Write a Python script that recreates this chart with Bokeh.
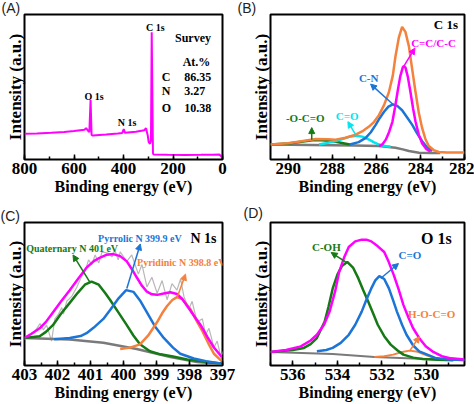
from bokeh.plotting import figure
from bokeh.layouts import gridplot
from bokeh.models import Range1d, SingleIntervalTicker, FixedTicker, Label, Arrow, NormalHead
from bokeh.embed import file_html
from bokeh.resources import INLINE

# ---------------- data ----------------
# (A) survey spectrum
survey_be = [800, 750, 692, 640, 600, 558, 551, 545, 538, 533, 529, 524, 470, 423, 405, 399, 394,
             350, 316, 309, 302, 298, 293, 289, 286, 281, 279, 222, 150, 87, 40, 13, 4]
survey_int = [17.7, 18.0, 18.4, 19.0, 19.6, 20.5, 21.6, 20.2, 18.9, 41.2, 17.0, 16.5, 17.2, 17.9, 18.3, 20.9, 18.4,
              19.2, 20.2, 21.6, 16.5, 11.9, 10.8, 13.1, 87.8, 4.5, 3.4, 3.2, 3.1, 3.2, 3.3, 3.5, 2.0]
survey_elem = ["C", "N", "O"]
survey_pct = ["86.35", "3.27", "10.38"]

# (B) C 1s
c_env_be = [290.8, 290.0, 289.4, 288.75, 288.2, 287.84, 287.4, 286.94, 286.6, 286.33, 286.1, 285.88, 285.65,
            285.43, 285.25, 285.13, 284.98, 284.83, 284.68, 284.52, 284.37, 284.22, 284.07, 283.92, 283.77,
            283.62, 283.4, 283.17, 282.8, 282.0]
c_env_int = [10.3, 11.2, 12.6, 14.2, 14.0, 13.7, 15.0, 17.1, 19.8, 22.7, 26.0, 30.6, 37.5,
             46.4, 58.0, 71.2, 84.0, 91.4, 88.0, 77.9, 62.0, 46.4, 32.0, 21.6, 14.0,
             9.3, 6.5, 5.2, 4.9, 4.9]
c_cc_be = [285.88, 285.72, 285.57, 285.42, 285.27, 285.15, 285.04, 284.92, 284.8, 284.75, 284.68, 284.57,
           284.45, 284.33, 284.22, 284.07, 283.92, 283.75, 283.55]
c_cc_int = [9.3, 10.5, 13.7, 19.0, 26.0, 36.0, 46.4, 57.0, 63.5, 64.4, 63.5, 57.0,
            46.4, 35.0, 26.0, 17.0, 11.0, 7.5, 5.4]
c_cn_be = [287.2, 286.8, 286.48, 286.25, 286.03, 285.85, 285.65, 285.45, 285.25, 285.05, 284.83, 284.6,
           284.37, 284.15, 283.92, 283.7, 283.47]
c_cn_int = [10.3, 12.0, 14.9, 18.8, 23.9, 28.5, 32.9, 36.5, 38.0, 37.0, 34.0, 29.0,
            23.9, 18.0, 12.6, 8.5, 5.9]
c_co_be = [288.6, 288.3, 287.84, 287.5, 287.2, 286.86, 286.6, 286.33, 286.1, 285.88, 285.6, 285.35]
c_co_int = [10.4, 11.2, 12.8, 14.3, 15.8, 16.4, 15.6, 13.7, 11.8, 10.3, 9.3, 8.8]
c_oco_be = [290.8, 290.0, 289.4, 288.9, 288.6, 288.2, 287.84, 287.5, 287.2]
c_oco_int = [10.3, 11.0, 12.3, 13.3, 13.5, 13.0, 12.2, 11.2, 10.3]
c_bg_be = [290.8, 289.0, 287.0, 285.88, 285.13, 284.8, 284.52, 284.07, 283.5, 283.1]
c_bg_int = [10.3, 10.0, 9.6, 9.3, 8.1, 7.0, 5.9, 4.7, 4.5, 4.4]

# (C) N 1s
n_raw_be = [403.0, 402.94, 402.69, 402.53, 402.43, 402.33, 402.18, 402.08, 401.97, 401.87, 401.82, 401.72,
            401.57, 401.41, 401.26, 401.16, 401.06, 400.96, 400.86, 400.75, 400.65, 400.45, 400.35, 400.26,
            400.16, 400.1, 399.9, 399.75, 399.55, 399.44, 399.29, 399.14, 398.98, 398.83, 398.68, 398.53,
            398.38, 398.27, 398.17, 398.02, 397.92, 397.77, 397.61, 397.51, 397.41, 397.26, 397.16, 397.05,
            396.97]
n_raw_int = [18.0, 19.3, 23.7, 29.3, 24.9, 28.2, 17.1, 32.6, 36.0, 40.5, 36.0, 44.9,
             48.3, 55.0, 62.7, 66.1, 73.9, 70.6, 77.3, 71.7, 79.5, 78.4, 75.9, 80.6,
             73.9, 79.5, 72.8, 77.3, 63.9, 70.6, 55.0, 61.7, 50.5, 59.4, 46.0, 57.2,
             52.7, 60.5, 48.3, 39.3, 44.9, 30.4, 32.6, 21.5, 26.0, 12.6, 17.1, 5.9,
             10.4]
n_env_be = [403.0, 402.8, 402.54, 402.35, 402.14, 401.9, 401.63, 401.38, 401.12, 400.9, 400.71, 400.5,
            400.31, 400.1, 399.9, 399.75, 399.6, 399.45, 399.29, 399.14, 398.98, 398.78, 398.58, 398.38,
            398.22, 398.07, 397.87, 397.66, 397.46, 397.26, 397.02]
n_env_int = [19.3, 22.0, 26.0, 30.5, 37.1, 44.5, 52.7, 60.5, 68.4, 73.0, 75.5, 77.5,
             77.9, 76.5, 72.8, 67.5, 61.7, 56.0, 51.6, 49.8, 49.4, 50.3, 51.2, 50.0,
             46.5, 41.6, 35.0, 28.2, 20.0, 12.6, 5.9]
n_quat_be = [403.0, 402.54, 402.35, 402.14, 401.9, 401.63, 401.38, 401.17, 400.97, 400.75, 400.55, 400.41,
             400.15, 399.9, 399.7, 399.5, 399.2, 398.88, 398.5, 398.07, 397.6, 397.0]
n_quat_int = [19.3, 20.4, 23.5, 28.2, 36.0, 43.8, 51.0, 56.5, 58.7, 56.5, 50.5, 46.0,
              37.0, 28.2, 21.0, 14.8, 10.0, 7.8, 6.3, 4.2, 2.8, 1.2]
n_pyrr_be = [402.1, 401.63, 401.3, 401.12, 400.9, 400.61, 400.4, 400.15, 399.92, 399.7, 399.5, 399.29,
             399.05, 398.78, 398.5, 398.28, 397.87, 397.5, 397.0]
n_pyrr_int = [18.4, 19.3, 20.6, 22.6, 26.5, 32.6, 39.0, 47.0, 52.7, 51.5, 45.5, 37.1,
              27.5, 19.3, 12.5, 8.2, 4.9, 3.0, 1.2]
n_pyri_be = [400.1, 399.8, 399.5, 399.25, 398.98, 398.83, 398.68, 398.52, 398.38, 398.22, 397.97, 397.78,
             397.6, 397.43, 397.26, 397.0]
n_pyri_int = [11.5, 12.5, 14.8, 21.0, 30.4, 36.5, 41.6, 45.8, 47.8, 46.5, 39.3, 31.0,
              23.7, 15.5, 8.2, 2.5]
n_bg_be = [403.0, 401.63, 400.61, 399.6, 398.58, 397.77, 397.0]
n_bg_int = [19.3, 18.2, 15.9, 11.5, 6.0, 2.5, 1.0]

# (D) O 1s
o_env_be = [537.0, 536.3, 535.64, 535.2, 534.92, 534.6, 534.35, 534.1, 533.92, 533.7, 533.49, 533.2,
            532.91, 532.7, 532.48, 532.2, 531.9, 531.7, 531.47, 531.25, 531.04, 530.8, 530.61, 530.3,
            530.04, 529.7, 529.32, 528.9, 528.3]
o_env_int = [9.5, 10.8, 13.4, 17.5, 21.5, 28.5, 37.7, 52.0, 65.5, 75.5, 82.9, 86.8,
             88.0, 88.0, 86.8, 83.5, 79.4, 72.5, 63.2, 53.0, 42.4, 33.0, 26.2, 18.5,
             13.4, 9.5, 6.5, 5.0, 4.2]
o_coh_be = [537.0, 536.0, 535.5, 535.2, 534.92, 534.57, 534.4, 534.21, 534.0, 533.8, 533.56, 533.3,
            533.06, 532.85, 532.62, 532.4, 532.19, 531.9, 531.61, 531.3, 531.04, 530.6, 530.18, 529.5, 528.8]
o_coh_int = [9.5, 10.8, 12.3, 15.0, 19.2, 30.8, 41.0, 53.9, 63.5, 69.5, 72.4, 68.5,
             60.9, 53.0, 44.7, 36.5, 28.5, 20.5, 14.6, 10.5, 7.6, 5.5, 4.6, 4.0, 3.7]
o_co_be = [534.92, 534.5, 534.21, 533.85, 533.49, 533.2, 532.91, 532.7, 532.48, 532.3, 532.12, 531.9,
           531.69, 531.5, 531.33, 531.1, 530.9, 530.6, 530.33, 529.61, 529.0, 528.3]
o_co_int = [9.9, 10.8, 12.3, 15.8, 21.5, 28.5, 37.7, 46.0, 53.9, 59.5, 62.5, 60.5,
            53.9, 45.5, 37.7, 28.5, 21.5, 14.0, 9.9, 5.3, 4.2, 3.8]
o_hoco_be = [532.34, 531.9, 531.5, 531.1, 530.76, 530.4, 530.0, 529.61]
o_hoco_int = [6.0, 6.4, 7.6, 9.4, 10.4, 9.6, 7.2, 5.0]
o_bg_be = [537.0, 534.21, 532.34, 530.61, 528.3]
o_bg_int = [9.5, 8.1, 6.0, 4.9, 3.7]

panel_tags = ["(A)", "(B)", "(C)", "(D)"]

# ---------------- style ----------------
MAGENTA = "#FF00FF"
ORANGE = "#F4813C"
BLUE = "#1C74D6"
GREEN = "#157A15"
CYAN = "#00E5EE"
GRAY = "#7A7A7A"
LIGHT = "#B8B8B8"
SERIF = "Liberation Serif"
W, H = 237, 202


def make_fig(xr, interval, borders, tag, tag_standoff):
    bl, br, bt, bb = borders
    p = figure(width=W, height=H, x_range=Range1d(*xr), y_range=Range1d(0, 100),
               output_backend="svg", toolbar_location=None,
               min_border_left=bl, min_border_right=br, min_border_top=bt, min_border_bottom=bb)
    p.title.text = tag
    p.title.align = "left"
    p.title.vertical_align = "top"
    p.title.offset = -bl
    p.title.standoff = tag_standoff
    p.title.text_font = "Liberation Sans"
    p.title.text_font_style = "normal"
    p.title.text_font_size = "14px"
    p.title.text_color = "#222222"
    p.grid.visible = False
    p.outline_line_color = "black"
    p.outline_line_width = 2
    p.outline_line_alpha = 1
    p.xaxis.ticker = SingleIntervalTicker(interval=interval, num_minor_ticks=2)
    p.xaxis.axis_line_color = None
    p.xaxis.major_tick_in = 5
    p.xaxis.major_tick_out = 0
    p.xaxis.minor_tick_in = 3
    p.xaxis.minor_tick_out = 0
    p.xaxis.major_tick_line_width = 1.5
    p.xaxis.minor_tick_line_width = 1.5
    p.xaxis.major_label_standoff = 3
    p.xaxis.major_label_text_font = SERIF
    p.xaxis.major_label_text_font_style = "bold"
    p.xaxis.major_label_text_font_size = "17px"
    p.xaxis.major_label_text_color = "black"
    p.xaxis.axis_label = "Binding energy (eV)"
    p.xaxis.axis_label_standoff = 1
    p.xaxis.axis_label_text_font = SERIF
    p.xaxis.axis_label_text_font_style = "bold"
    p.xaxis.axis_label_text_font_size = "16px"
    p.xaxis.axis_label_text_color = "black"
    p.yaxis.ticker = FixedTicker(ticks=[])
    p.yaxis.axis_line_color = None
    p.yaxis.major_tick_in = 0
    p.yaxis.major_tick_out = 0
    p.yaxis.minor_tick_in = 0
    p.yaxis.minor_tick_out = 0
    p.yaxis.major_label_standoff = 0
    p.yaxis.axis_label = "Intensity (a.u.)"
    p.yaxis.axis_label_standoff = 0
    p.yaxis.axis_label_text_font = SERIF
    p.yaxis.axis_label_text_font_style = "bold"
    p.yaxis.axis_label_text_font_size = "17px"
    p.yaxis.axis_label_text_color = "black"
    return p


def txt(p, x, y, text, color="black", size="11px", align="left"):
    p.add_layout(Label(x=x, y=y, text=text, text_color=color, text_font=SERIF,
                       text_font_style="bold", text_font_size=size,
                       text_align=align, text_baseline="middle"))


def arrow(p, x0, y0, x1, y1, color):
    p.add_layout(Arrow(end=NormalHead(size=6, fill_color=color, line_color=color),
                       x_start=x0, y_start=y0, x_end=x1, y_end=y1,
                       line_color=color, line_width=1.5))


# ---------------- (A) ----------------
pA = make_fig((800, 0), 200, (23, 15, 14, 43), panel_tags[0], -6)
pA.line(survey_be, survey_int, line_color=MAGENTA, line_width=2)
txt(pA, 309, 90.8, "C 1s", size="10px")
txt(pA, 558, 43.7, "O 1s", size="10px")
txt(pA, 423, 25.3, "N 1s", size="10px")
txt(pA, 192, 83.9, "Survey", size="12px")
txt(pA, 161, 67.1, "At.%", size="12px")
for i, (el, pc) in enumerate(zip(survey_elem, survey_pct)):
    yy = [56.8, 47.1, 35.6][i]
    txt(pA, 245, yy, el, size="12px")
    txt(pA, 155, yy, pc, size="12px")

# ---------------- (B) ----------------
pB = make_fig((290.8, 282), 2, (33, 10, 14, 40), panel_tags[1], -6)
pB.line(c_bg_be, c_bg_int, line_color=GRAY, line_width=2.5)
pB.line(c_oco_be, c_oco_int, line_color=GREEN, line_width=2.5)
pB.line(c_co_be, c_co_int, line_color=CYAN, line_width=2.5)
pB.line(c_cn_be, c_cn_int, line_color=BLUE, line_width=2.5)
pB.line(c_cc_be, c_cc_int, line_color=MAGENTA, line_width=2.5)
pB.line(c_env_be, c_env_int, line_color=ORANGE, line_width=2.5)
txt(pB, 283.39, 93, "C 1s", size="13px")
txt(pB, 284.42, 80.6, "C=C/C-C", color=MAGENTA)
txt(pB, 286.79, 55.9, "C-N", color=BLUE)
txt(pB, 287.84, 30.2, "C=O", color=CYAN)
txt(pB, 290.1, 28.8, "-O-C=O", color=GREEN)
arrow(pB, 288.93, 13.7, 288.93, 22, GREEN)
arrow(pB, 286.94, 17.1, 287.29, 26.1, CYAN)
arrow(pB, 285.2, 37.4, 286.26, 52, BLUE)
arrow(pB, 284.75, 64.4, 284.25, 76.8, MAGENTA)

# ---------------- (C) ----------------
pC = make_fig((403, 397), 1, (24, 14, 14, 39), panel_tags[2], -6)
pC.line(n_raw_be, n_raw_int, line_color=LIGHT, line_width=1.2)
pC.line(n_bg_be, n_bg_int, line_color=GRAY, line_width=2.5)
pC.line(n_quat_be, n_quat_int, line_color=GREEN, line_width=2.5)
pC.line(n_pyrr_be, n_pyrr_int, line_color=BLUE, line_width=2.5)
pC.line(n_pyri_be, n_pyri_int, line_color=ORANGE, line_width=2.5)
pC.line(n_env_be, n_env_int, line_color=MAGENTA, line_width=2.5)
txt(pC, 400.77, 89.1, "Pyrrolic N 399.9 eV", color=BLUE, size="10px")
txt(pC, 397.97, 89.1, "N 1s", size="14px")
txt(pC, 402.95, 81.7, "Quaternary N 401 eV", color=GREEN, size="10px")
txt(pC, 399.59, 71.7, "Pyridinic N 398.8 eV", color=ORANGE, size="10px")
arrow(pC, 401.02, 58.3, 401.53, 77.3, GREEN)
arrow(pC, 399.9, 53.8, 399.49, 85, BLUE)
arrow(pC, 398.38, 47.2, 398.12, 63.9, ORANGE)

# ---------------- (D) ----------------
pD = make_fig((537, 528.3), 2, (27, 9, 20, 37), panel_tags[3], 0)
pD.line(o_bg_be, o_bg_int, line_color=GRAY, line_width=2)
pD.line(o_hoco_be, o_hoco_int, line_color=ORANGE, line_width=2)
pD.line(o_coh_be, o_coh_int, line_color=GREEN, line_width=2.5)
pD.line(o_co_be, o_co_int, line_color=BLUE, line_width=2.5)
pD.line(o_env_be, o_env_int, line_color=MAGENTA, line_width=2.5)
txt(pD, 530.25, 88.7, "O 1s", size="16px")
txt(pD, 535.14, 82.9, "C-OH", color=GREEN)
txt(pD, 531.26, 77.1, "C=O", color=BLUE)
txt(pD, 530.83, 35.9, "H-O-C=O", color=ORANGE)
arrow(pD, 533.63, 72.4, 534.28, 79, GREEN)
arrow(pD, 532.05, 61, 531.26, 71.3, BLUE)
arrow(pD, 530.75, 10.4, 530.32, 20.3, ORANGE)

grid = gridplot([[pA, pB], [pC, pD]], toolbar_location=None)
open("out.html", "w").write(file_html(grid, INLINE))
